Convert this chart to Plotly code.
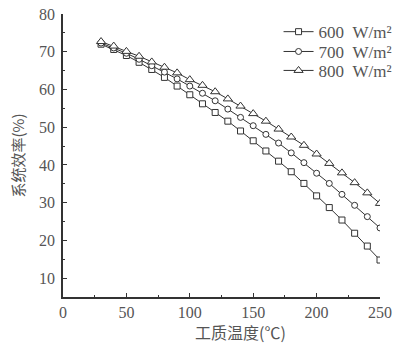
import plotly.graph_objects as go

temps = [30, 40, 50, 60, 70, 80, 90, 100, 110, 120, 130, 140, 150, 160, 170, 180, 190, 200, 210, 220, 230, 240, 250]
eff_600 = [72.0, 70.6, 69.0, 67.2, 65.3, 63.2, 60.9, 58.6, 56.2, 53.9, 51.6, 49.0, 46.4, 43.7, 41.0, 38.2, 35.1, 31.8, 28.7, 25.4, 21.9, 18.5, 14.8]
eff_700 = [72.3, 71.0, 69.6, 68.0, 66.3, 64.6, 62.8, 60.9, 59.0, 57.0, 54.8, 52.6, 50.4, 48.1, 45.8, 43.2, 40.6, 37.8, 35.1, 32.2, 29.3, 26.3, 23.3]
eff_800 = [72.7, 71.5, 70.1, 68.8, 67.3, 65.9, 64.4, 62.6, 61.1, 59.4, 57.5, 55.6, 53.6, 51.6, 49.5, 47.4, 45.2, 42.9, 40.4, 37.9, 35.3, 32.6, 29.8]
series_names = ["600\u00a0\u00a0W/m\u00b2", "700\u00a0\u00a0W/m\u00b2", "800\u00a0\u00a0W/m\u00b2"]
x_ticks = [0, 50, 100, 150, 200, 250]
y_ticks = [10, 20, 30, 40, 50, 60, 70, 80]

ink = "#333333"
grey = "#555555"
serif = "Liberation Serif, Times New Roman, serif"
cjk = "Noto Sans CJK SC, sans-serif"

legend_ids = ["legend", "legend2", "legend3"]
legend_rows = [0.936, 0.866, 0.799]

fig = go.Figure()
for vals, name, sym, size, lg in [
    (eff_600, series_names[0], "square", 6, legend_ids[0]),
    (eff_700, series_names[1], "circle", 6, legend_ids[1]),
    (eff_800, series_names[2], "triangle-up", 8, legend_ids[2]),
]:
    fig.add_trace(go.Scatter(
        x=temps, y=vals, name=name, mode="lines+markers", legend=lg,
        line=dict(color=ink, width=1),
        marker=dict(symbol=sym, size=size, color="white", line=dict(color=ink, width=1)),
    ))

legend_style = dict(x=0.68, xanchor="left", yanchor="middle",
                    font=dict(family=serif, size=17, color=grey),
                    bgcolor="rgba(0,0,0,0)", itemwidth=30)

fig.update_layout(
    width=396, height=349,
    margin=dict(l=63, r=16, t=14, b=52, autoexpand=False),
    paper_bgcolor="white", plot_bgcolor="white",
    font=dict(family=serif, size=16, color=grey),
    showlegend=True,
    legend=dict(y=legend_rows[0], **legend_style),
    legend2=dict(y=legend_rows[1], **legend_style),
    legend3=dict(y=legend_rows[2], **legend_style),
    xaxis=dict(range=[0, 250], tickvals=x_ticks, ticks="inside", ticklen=4, tickwidth=1,
               tickcolor=ink, showline=True, linecolor=ink, linewidth=1.5,
               showgrid=False, zeroline=False, automargin=False,
               minor=dict(dtick=25, ticks="inside", ticklen=2.5, tickcolor=ink, tickwidth=1),
               tickfont=dict(family=serif, size=16, color=grey)),
    yaxis=dict(range=[5, 80], tickvals=y_ticks, ticks="inside", ticklen=4, tickwidth=1,
               tickcolor=ink, showline=True, linecolor=ink, linewidth=1.5,
               showgrid=False, zeroline=False, automargin=False, ticklabelstandoff=3,
               minor=dict(dtick=5, ticks="inside", ticklen=2.5, tickcolor=ink, tickwidth=1),
               tickfont=dict(family=serif, size=16, color=grey),
               title=dict(text="系统效率(%)", font=dict(family=cjk, size=15, color=grey), standoff=11)),
)
fig.add_annotation(text="工质温度(℃)", xref="paper", yref="paper", x=0.56, y=-0.122,
                   xanchor="center", yanchor="middle", showarrow=False,
                   font=dict(family=cjk, size=16, color=grey))

fig.write_html("out.html", config={"displayModeBar": False},
               post_script="document.body.style.margin='0';document.documentElement.style.overflow='hidden';document.body.style.overflow='hidden';")
